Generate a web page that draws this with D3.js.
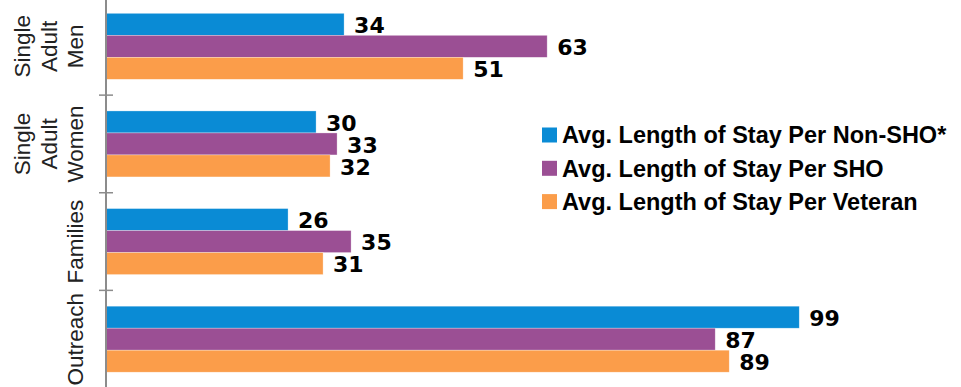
<!DOCTYPE html>
<html>
<head>
<meta charset="utf-8">
<script src="https://cdn.jsdelivr.net/npm/d3@7"></script>
<style>
	body { margin: 0; background: #fff; }
	.cat_label { font-family: "Liberation Sans", Arial, sans-serif; font-size: 22.5px; fill: #222; }
	.bar_label { font-family: "DejaVu Sans", sans-serif; font-weight: bold; font-size: 22px; fill: #000; }
	.legend_text { font-family: "Liberation Sans", Arial, sans-serif; font-weight: bold; font-size: 23.5px; fill: #000; }
</style>
</head>
<body>
<div id="chart"></div>
<script>
// categories (top to bottom)
let categories = ["Single Adult Men", "Single Adult Women", "Families", "Outreach"];

// series names and values
let series_names = ["Avg. Length of Stay Per Non-SHO*", "Avg. Length of Stay Per SHO", "Avg. Length of Stay Per Veteran"];
let non_sho = [34, 30, 26, 99];
let sho = [63, 33, 35, 87];
let veteran = [51, 32, 31, 89];
let colors = ["#0a8bd5", "#9b4f94", "#fb9d4a"];

draw_barchart();

function draw_barchart()
{
	let width = 961, height = 387;
	let axis_x = 106;

	let svg = d3.select("#chart")
		.append("svg")
		.attr("width", width)
		.attr("height", height);

	let series = [non_sho, sho, veteran];

	//scales
	let y_group = d3.scaleBand()
		.domain(categories)
		.range([-2.5, 388])
		.paddingInner(0.324)
		.paddingOuter(0.162);

	let y_bar = d3.scaleBand()
		.domain(d3.range(series.length))
		.range([0, y_group.bandwidth()]);

	let x_scale = d3.scaleLinear()
		.domain([0, 122.1])
		.range([axis_x, width]);

	//groups
	let groups = svg.selectAll(".group")
		.data(categories)
		.enter()
		.append("g")
		.attr("class", "group")
		.attr("transform", d => "translate(0," + y_group(d) + ")");

	groups.selectAll("rect")
		.data((d, i) => series.map((s, j) => ({k: j, v: s[i]})))
		.enter()
		.append("rect")
		.attr("x", x_scale(0))
		.attr("y", d => y_bar(d.k))
		.attr("width", d => x_scale(d.v) - x_scale(0))
		.attr("height", y_bar.bandwidth())
		.attr("fill", d => colors[d.k])
		.attr("stroke", "#fff")
		.attr("stroke-opacity", 0.5)
		.attr("stroke-width", 0.6);

	groups.selectAll(".bar_label")
		.data((d, i) => series.map((s, j) => ({k: j, v: s[i]})))
		.enter()
		.append("text")
		.attr("class", "bar_label")
		.attr("x", d => x_scale(d.v) + 10)
		.attr("y", d => y_bar(d.k) + y_bar.bandwidth() / 2)
		.attr("dy", "0.4em")
		.text(d => d.v);

	//y axis with ticks between groups
	let y_axis = d3.axisLeft(y_group)
		.tickSize(0)
		.tickFormat("");

	let ax = svg.append("g")
		.attr("transform", "translate(" + axis_x + ",0)")
		.call(y_axis);
	ax.select(".domain").attr("stroke", "#8c8c8c").attr("stroke-width", 2)
		.attr("d", "M0,-5V" + (height + 5));

	let boundaries = categories.slice(1).map(c => y_group(c) - y_group.step() * y_group.paddingInner() / 2);
	ax.selectAll(".sep")
		.data(boundaries)
		.enter()
		.append("line")
		.attr("x1", -7)
		.attr("x2", 7)
		.attr("y1", d => d)
		.attr("y2", d => d)
		.attr("stroke", "#8c8c8c")
		.attr("stroke-width", 1.5);

	//category labels, rotated, lines stacked away from axis
	groups.each(function (d) {
		let words = d.split(" ");
		let n = words.length;
		let label = d3.select(this).append("text")
			.attr("class", "cat_label")
			.attr("text-anchor", "middle")
			.attr("transform", "translate(0," + (y_group.bandwidth() / 2) + ") rotate(-90)");
		words.forEach((w, i) => {
			label.append("tspan")
				.attr("x", 0)
				.attr("y", axis_x - 31 - (n - 1 - i) * 26.5)
				.attr("dy", "0.36em")
				.text(w);
		});
	});

	//legend
	let legend = svg.append("g")
		.attr("transform", "translate(542,135)");

	let items = legend.selectAll(".item")
		.data(series_names)
		.enter()
		.append("g")
		.attr("transform", (d, i) => "translate(0," + i * 33.3 + ")");

	items.append("rect")
		.attr("x", 0)
		.attr("y", -7.5)
		.attr("width", 15)
		.attr("height", 15)
		.attr("fill", (d, i) => colors[i]);

	items.append("text")
		.attr("class", "legend_text")
		.attr("x", 20)
		.attr("y", 0)
		.attr("dy", "0.36em")
		.text(d => d);
}
</script>
</body>
</html>
